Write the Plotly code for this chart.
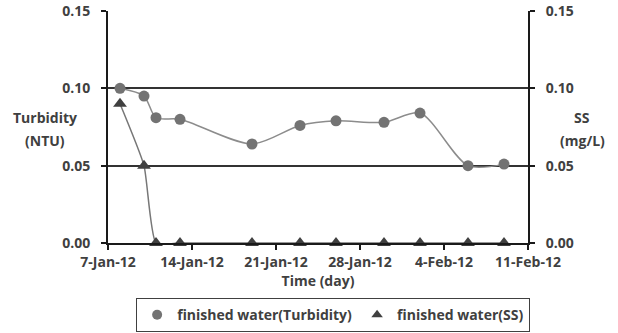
import plotly.graph_objects as go

# Sampling dates and measured values
dates = ["2012-01-08", "2012-01-10", "2012-01-11", "2012-01-13", "2012-01-19",
         "2012-01-23", "2012-01-26", "2012-01-30", "2012-02-02", "2012-02-06",
         "2012-02-09"]
turbidity_ntu = [0.100, 0.095, 0.081, 0.080, 0.064, 0.076, 0.079, 0.078, 0.084, 0.050, 0.051]
ss_mgl = [0.090, 0.050, 0.0, 0.0, 0.0, 0.0, 0.0, 0.0, 0.0, 0.0, 0.0]

y_ticks = [0.00, 0.05, 0.10, 0.15]

FONT = "Open Sans"
TXT = "#404040"
AX = "#1a1a1a"

TURB_LINE, TURB_MARK = "#8c8c8c", "#737373"
SS_LINE, SS_MARK = "#777777", "#404040"

fig = go.Figure()

fig.add_trace(go.Scatter(
    x=dates, y=turbidity_ntu, name="finished water(Turbidity)",
    mode="lines+markers", showlegend=False,
    line=dict(color=TURB_LINE, width=1.5, shape="spline", smoothing=0.8),
    marker=dict(symbol="circle", size=11, color=TURB_MARK),
    cliponaxis=False,
))

fig.add_trace(go.Scatter(
    x=dates, y=ss_mgl, name="finished water(SS)", yaxis="y2",
    mode="lines+markers", showlegend=False,
    line=dict(color=SS_LINE, width=1.5, shape="spline", smoothing=0.5),
    marker=dict(symbol="triangle-up", size=12, color=SS_MARK),
    cliponaxis=False,
))

# Marker-only legend keys
fig.add_trace(go.Scatter(x=[None], y=[None], mode="markers",
                         name="finished water(Turbidity)",
                         marker=dict(symbol="circle", size=10, color=TURB_MARK)))
fig.add_trace(go.Scatter(x=[None], y=[None], mode="markers",
                         name="finished water(SS)",
                         marker=dict(symbol="triangle-up", size=10, color=SS_MARK)))

axis_font = dict(family=FONT, size=14, color=TXT, weight="bold")

fig.update_layout(
    width=618, height=333,
    margin=dict(l=108, r=90, t=11, b=90, autoexpand=False),
    paper_bgcolor="white", plot_bgcolor="white",
    font=dict(family=FONT, color=TXT),
    showlegend=True,
    legend=dict(
        orientation="h", x=0.067, xanchor="left", y=-0.238, yanchor="top",
        bordercolor="#404040", borderwidth=1,
        font=dict(family=FONT, size=14, color=TXT, weight="bold"),
        itemwidth=30, tracegroupgap=0,
    ),
    xaxis=dict(
        type="date",
        range=["2012-01-07", "2012-02-11"],
        tick0="2012-01-07", dtick=7 * 24 * 3600 * 1000,
        tickformat="%-d-%b-%y",
        ticks="outside", ticklen=5, tickcolor=AX, tickwidth=1.5,
        showline=True, linecolor=AX, linewidth=2,
        showgrid=False, zeroline=False, automargin=False,
        tickfont=axis_font,
        title=dict(text="Time (day)", font=axis_font, standoff=4),
    ),
    yaxis=dict(
        range=[0, 0.15], tickvals=y_ticks, tickformat=".2f",
        ticks="outside", ticklen=5, tickcolor=AX, tickwidth=1.5,
        ticklabelstandoff=8,
        showline=True, linecolor=AX, linewidth=2,
        showgrid=True, gridcolor="#333333", gridwidth=1.5,
        zeroline=False, automargin=False, tickfont=axis_font,
    ),
    yaxis2=dict(
        range=[0, 0.15], tickvals=y_ticks, tickformat=".2f",
        overlaying="y", side="right",
        ticks="outside", ticklen=5, tickcolor=AX, tickwidth=1.5,
        ticklabelstandoff=8,
        showline=True, linecolor=AX, linewidth=2,
        showgrid=False, zeroline=False, automargin=False, tickfont=axis_font,
    ),
    annotations=[
        dict(text="Turbidity", xref="paper", yref="paper",
             x=-0.15, y=0.543, xanchor="center", yanchor="middle",
             showarrow=False, font=axis_font),
        dict(text="(NTU)", xref="paper", yref="paper",
             x=-0.15, y=0.44, xanchor="center", yanchor="middle",
             showarrow=False, font=axis_font),
        dict(text="SS", xref="paper", yref="paper",
             x=1.129, y=0.543, xanchor="center", yanchor="middle",
             showarrow=False, font=axis_font),
        dict(text="(mg/L)", xref="paper", yref="paper",
             x=1.129, y=0.44, xanchor="center", yanchor="middle",
             showarrow=False, font=axis_font),
    ],
)

fig.write_html("out.html")
